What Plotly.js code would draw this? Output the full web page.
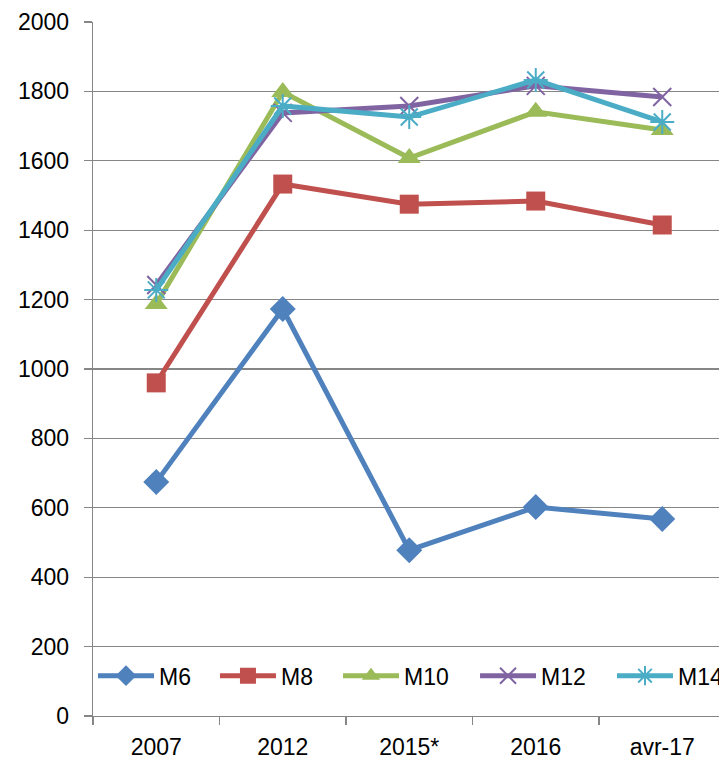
<!DOCTYPE html>
<html><head><meta charset="utf-8">
<script src="https://cdn.plot.ly/plotly-3.0.1.min.js"></script>
<style>html,body{margin:0;padding:0;overflow:hidden;background:#fff;width:719px;height:761px}#chart{width:813px;height:761px}</style>
</head><body><div id="chart"></div>
<script>
const categories = ["2007", "2012", "2015*", "2016", "avr-17"];
const seriesNames = ["M6", "M8", "M10", "M12", "M14"];
const m6  = [674, 1173, 478, 602, 568];
const m8  = [960, 1533, 1475, 1484, 1415];
const m10 = [1187, 1798, 1608, 1741, 1689];
const m12 = [1242, 1738, 1758, 1816, 1784];
const m14 = [1228, 1758, 1726, 1833, 1712];
const yTicks = [0, 200, 400, 600, 800, 1000, 1200, 1400, 1600, 1800, 2000];

const values = [m6, m8, m10, m12, m14];
const colors = ["#4F81BD", "#C0504D", "#9BBB59", "#8064A2", "#4BACC6"];
const symbols = ["diamond", "square", "triangle-up", "x-thin-open", "asterisk-open"];
const sizes = [20, 19, 20, 18, 20];
const legendX = [0, 0.1694, 0.3403, 0.5306, 0.7208];

const legendKeys = values.map((v, i) => i === 0 ? "legend" : "legend" + (i + 1));
const traces = values.map((v, i) => ({
  x: categories, y: v, name: seriesNames[i], type: "scatter", mode: "lines+markers",
  legend: legendKeys[i],
  line: {color: colors[i], width: 5},
  marker: {symbol: symbols[i], size: sizes[i], color: colors[i],
           line: {color: colors[i], width: (i >= 3 ? 2 : 0)}}
}));

const font = {family: "Liberation Sans, Arial, sans-serif", size: 23, color: "#000"};
const W = 813, L = 93, catPx = 126.5;
const layout = {
  width: W, height: 761,
  margin: {l: L, r: 0, t: 22, b: 45},
  paper_bgcolor: "#fff", plot_bgcolor: "#fff",
  font: font,
  showlegend: true,
  xaxis: {type: "category", range: [-0.5, -0.5 + (W - L) / catPx], showgrid: false, showline: true,
          linecolor: "#868686", linewidth: 1.3, ticks: "outside", tickson: "boundaries",
          ticklen: 8, tickcolor: "#868686", tickwidth: 1.3, tickfont: font, zeroline: false,
          ticklabelstandoff: 10, automargin: false},
  yaxis: {range: [0, 2000], tickvals: yTicks, ticktext: yTicks.map(String),
          showgrid: true, gridcolor: "#868686", gridwidth: 1.3, showline: true,
          linecolor: "#868686", linewidth: 1.3, ticks: "outside", ticklen: 8,
          tickcolor: "#868686", tickwidth: 1.3, tickfont: font, zeroline: false,
          ticklabelstandoff: 10, automargin: false}
};
legendKeys.forEach((k, i) => {
  layout[k] = {orientation: "h", x: legendX[i], y: 0.058, xanchor: "left", yanchor: "middle",
               bgcolor: "rgba(255,255,255,0)", font: font, itemwidth: 56, visible: true};
});
Plotly.newPlot("chart", traces, layout, {staticPlot: true});
</script></body></html>
